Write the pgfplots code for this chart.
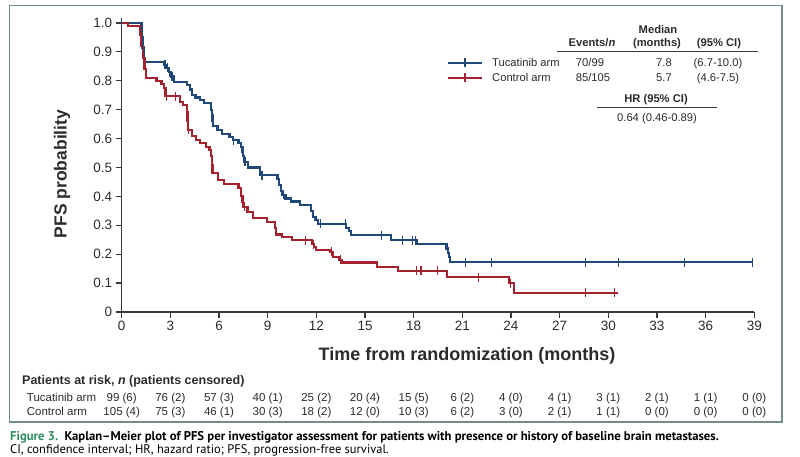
\documentclass[border=0pt]{standalone}
\usepackage{pgfplots}
\usepackage{pgfplotstable}
\pgfplotsset{compat=1.18}
\usepackage{fontspec}
\setmainfont{Liberation Sans}
\newfontfamily\capfont{PT Sans}

\definecolor{tucablue}{HTML}{1F4778}
\definecolor{ctrlred}{HTML}{A2232D}
\definecolor{framegreen}{HTML}{6F8F86}
\definecolor{figgreen}{HTML}{2E8B62}
\definecolor{axisgrey}{HTML}{3A3A3A}
\definecolor{txt}{HTML}{2B2B2B}

% Kaplan-Meier step curves: time (months), survival from that time on
\pgfplotstableread{
t s
0 1.0
1.22 0.95
1.28 0.915
1.34 0.89
1.38 0.864
2.62 0.855
2.78 0.845
2.92 0.83
3.05 0.815
3.2 0.797
4.05 0.785
4.2 0.77
4.35 0.752
4.55 0.742
4.85 0.733
5.05 0.724
5.5 0.70
5.55 0.68
5.6 0.66
5.65 0.643
5.9 0.63
6.2 0.617
6.65 0.605
6.85 0.595
7.2 0.585
7.35 0.57
7.45 0.555
7.5 0.54
7.55 0.52
7.8 0.50
8.55 0.474
9.6 0.46
9.7 0.44
9.8 0.42
9.9 0.405
10.1 0.393
10.45 0.382
11.0 0.37
11.65 0.35
11.8 0.33
11.95 0.317
12.1 0.305
13.85 0.29
14.0 0.28
14.15 0.266
16.6 0.249
18.2 0.235
20.02 0.22
20.1 0.205
20.18 0.19
20.25 0.172
38.95 0.172
}\tucacurve

\pgfplotstableread{
t s
0 1.0
1.3 0.915
2.65 0.855
2.72 0.855
2.85 0.845
2.95 0.83
3.1 0.815
3.15 0.815
6.9 0.595
7.6 0.52
8.65 0.474
9.95 0.405
12.25 0.305
13.8 0.305
16.0 0.266
17.3 0.249
17.95 0.249
18.1 0.249
20.15 0.205
20.2 0.19
21.2 0.172
22.8 0.172
28.6 0.172
30.6 0.172
34.7 0.172
38.9 0.172
}\tucacens

\pgfplotstableread{
t s
0 1.0
0.4 0.99
1.13 0.96
1.2 0.92
1.3 0.88
1.4 0.84
1.5 0.81
2.15 0.80
2.45 0.79
2.6 0.775
2.7 0.746
3.6 0.727
3.8 0.717
4.03 0.69
4.06 0.66
4.1 0.63
4.35 0.61
4.6 0.595
4.85 0.585
5.2 0.572
5.4 0.56
5.5 0.54
5.55 0.51
5.6 0.48
5.95 0.457
6.3 0.443
7.2 0.428
7.35 0.40
7.45 0.38
7.5 0.364
7.75 0.347
8.1 0.324
8.95 0.312
9.45 0.29
9.5 0.268
9.9 0.26
10.5 0.249
11.75 0.235
11.85 0.226
12.0 0.215
12.85 0.208
13.05 0.19
13.4 0.18
13.55 0.171
15.72 0.157
17.05 0.143
20.04 0.121
23.9 0.10
24.2 0.067
30.6 0.067
}\ctrlcurve

\pgfplotstableread{
t s
2.78 0.746
3.3 0.746
4.12 0.63
5.45 0.56
7.55 0.364
11.35 0.249
11.8 0.235
12.95 0.208
13.5 0.18
18.2 0.143
18.45 0.143
19.45 0.143
22.0 0.121
23.95 0.10
28.6 0.067
30.4 0.067
}\ctrlcens

\begin{document}
\begin{tikzpicture}[x=1pt,y=1pt,
  cell/.style={inner sep=0pt, text height=0.72em, text depth=0pt, text=txt}]
\useasboundingbox (0,0) rectangle (800,457);

% outer figure frame
\draw[framegreen, line width=1.5pt] (9.3,451.3) rectangle (782,35);

\begin{axis}[
  at={(121.7pt,145pt)}, anchor=south west,
  scale only axis, width=632.6pt, height=289pt,
  xmin=0, xmax=39, ymin=0, ymax=1,
  axis lines=left,
  axis line style={-, draw=axisgrey, line width=1.5pt},
  tick align=outside, major tick length=6pt,
  tick style={axisgrey, line width=1.2pt},
  xtick={0,3,6,9,12,15,18,21,24,27,30,33,36,39},
  xticklabels={0,3,6,9,12,15,18,21,24,27,30,33,36,39},
  ytick={0,0.1,0.2,0.3,0.4,0.5,0.6,0.7,0.8,0.9,1.0},
  yticklabels={0,0.1,0.2,0.3,0.4,0.5,0.6,0.7,0.8,0.9,1.0},
  ticklabel style={font=\fontsize{13.5}{16}\selectfont, text=txt},
  clip=false,
]
\addplot[const plot, tucablue, line width=2.2pt] table {\tucacurve};
\addplot[const plot, ctrlred, line width=2.2pt] table {\ctrlcurve};
\addplot[only marks, mark=|, mark size=4.5pt, tucablue, mark options={line width=1.1pt}] table {\tucacens};
\addplot[only marks, mark=|, mark size=4.5pt, ctrlred, mark options={line width=1.1pt}] table {\ctrlcens};
\end{axis}

% axis titles
\node[rotate=90, font=\bfseries\fontsize{17.5}{20}\selectfont, text=txt] at (62,283) {PFS probability};
\node[font=\bfseries\fontsize{18}{20}\selectfont, text=txt] at (467,101) {Time from randomization (months)};

% legend with summary statistics
\begin{scope}[font=\fontsize{11.2}{13}\selectfont]
\node[cell, font=\bfseries\fontsize{11.2}{13}\selectfont] at (658,427) {Median};
\node[cell, font=\bfseries\fontsize{11.2}{13}\selectfont] at (592,414) {Events/\textit{n}};
\node[cell, font=\bfseries\fontsize{11.2}{13}\selectfont] at (657,414) {(months)};
\node[cell, font=\bfseries\fontsize{11.2}{13}\selectfont] at (719,414) {(95\% CI)};
\draw[axisgrey, line width=0.9pt] (557,405.3) -- (758,405.3);

\draw[tucablue, line width=2.2pt] (448,394) -- (482,394);
\draw[tucablue, line width=1.1pt] (465,389.5) -- (465,398.5);
\node[cell, anchor=west] at (492,394) {Tucatinib arm};
\node[cell] at (590,394) {70/99};
\node[cell] at (664,394) {7.8};
\node[cell] at (718,394) {(6.7-10.0)};

\draw[ctrlred, line width=2.2pt] (448,379.3) -- (482,379.3);
\draw[ctrlred, line width=1.1pt] (465,374.8) -- (465,383.8);
\node[cell, anchor=west] at (492,379.3) {Control arm};
\node[cell] at (593,379.3) {85/105};
\node[cell] at (664,379.3) {5.7};
\node[cell] at (718,379.3) {(4.6-7.5)};

\node[cell, font=\bfseries\fontsize{11.2}{13}\selectfont] at (656,358) {HR (95\% CI)};
\draw[axisgrey, line width=0.9pt] (597,349.3) -- (717,349.3);
\node[cell] at (657,339) {0.64 (0.46-0.89)};
\end{scope}

% number at risk table
\node[cell, anchor=west, font=\bfseries\fontsize{12.5}{14}\selectfont] at (22,76.3) {Patients at risk, \textit{n} (patients censored)};
\begin{scope}[font=\fontsize{11.5}{13}\selectfont]
\node[cell, anchor=west] at (26.7,59.3) {Tucatinib arm};
\node[cell, anchor=west] at (26.7,44.7) {Control arm};
\foreach \v [count=\i from 0] in {99 (6),76 (2),57 (3),40 (1),25 (2),20 (4),15 (5),6 (2),4 (0),4 (1),3 (1),2 (1),1 (1),0 (0)}
  \node[cell] at (121.7+48.66*\i,59.3) {\v};
\foreach \v [count=\i from 0] in {105 (4),75 (3),46 (1),30 (3),18 (2),12 (0),10 (3),6 (2),3 (0),2 (1),1 (1),0 (0),0 (0),0 (0)}
  \node[cell] at (121.7+48.66*\i,44.7) {\v};
\end{scope}

% caption
\node[cell, anchor=west, font=\capfont\bfseries\fontsize{12.7}{14}\selectfont, text=black] at (10,20.5)
  {\textcolor{figgreen}{Figure 3.}\enspace Kaplan\textendash Meier plot of PFS per investigator assessment for patients with presence or history of baseline brain metastases.};
\node[cell, anchor=west, font=\capfont\fontsize{12.5}{14}\selectfont, text=black] at (10,7.5)
  {CI, confidence interval; HR, hazard ratio; PFS, progression-free survival.};
\end{tikzpicture}
\end{document}
